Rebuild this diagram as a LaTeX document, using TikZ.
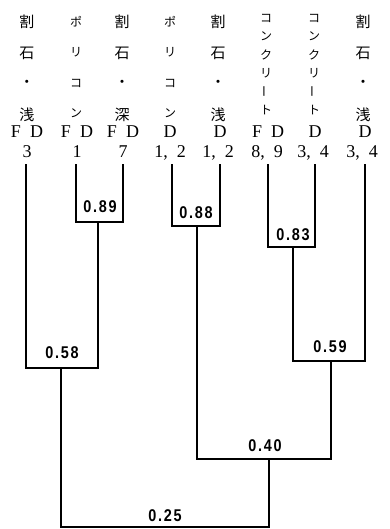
\documentclass[tikz,border=0pt]{standalone}
\usepackage{graphicx}
\usepackage{fontspec}
\setmainfont{Liberation Serif}
\newfontfamily\jp{Noto Sans CJK JP}
\newfontfamily\numfont[LetterSpace=12]{Liberation Sans}
% long vowel mark set vertically, as in vertical writing
\newcommand{\vchoon}{\rotatebox[origin=c]{90}{ー}}
\begin{document}
\begin{tikzpicture}[x=1pt,y=-1pt,
  kanji/.style={inner sep=0pt,font=\jp\fontsize{15}{15}\selectfont},
  kana/.style={inner sep=0pt,font=\jp\fontsize{12}{12}\selectfont},
  latin/.style={inner sep=0pt,anchor=base,font=\fontsize{18}{18}\selectfont},
  simval/.style={inner sep=0pt,xscale=0.85,font=\numfont\bfseries\fontsize{17}{17}\selectfont},
  branch/.style={line width=1.7pt,line join=miter,line cap=rect}]
\useasboundingbox (0,0) rectangle (390,529);

% ---- column headings: kanji columns ----
\foreach \cx/\cn/\last in {27/a/浅,122/c/深,218/e/浅,363/h/浅}{
  \foreach \ch [count=\i] in {割,石,・,\last}
    \node[kanji] (\cn\i) at (\cx,{22+(\i-1)*31}) {\ch};
}
% ---- column headings: katakana columns ----
\foreach \cx/\cn in {76/b,170/d}{
  \foreach \ch [count=\i] in {ポ,リ,コ,ン}
    \node[kana] (\cn\i) at (\cx,{22+(\i-1)*30.5}) {\ch};
}
\foreach \cx/\cn in {266/f,314/g}{
  \foreach \ch [count=\i] in {コ,ン,ク,リ,\vchoon,ト}
    \node[kana] (\cn\i) at (\cx,{18+(\i-1)*18.5}) {\ch};
}
% ---- column headings: codes ----
\node[latin] (aF) at (27,138) {F\enspace D};
\node[latin] (bF) at (77,138) {F\enspace D};
\node[latin] (cF) at (123,138) {F\enspace D};
\node[latin] (dF) at (170,138) {D};
\node[latin] (eF) at (220,138) {D};
\node[latin] (fF) at (268,138) {F\enspace D};
\node[latin] (gF) at (315,138) {D};
\node[latin] (hF) at (365,138) {D};
\node[latin] (aN) at (27,158) {3};
\node[latin] (bN) at (77,158) {1};
\node[latin] (cN) at (123,158) {7};
\node[latin] (dN) at (170,158) {1,\enspace 2};
\node[latin] (eN) at (218,158) {1,\enspace 2};
\node[latin] (fN) at (267,158) {8,\enspace 9};
\node[latin] (gN) at (313,158) {3,\enspace 4};
\node[latin] (hN) at (362,158) {3,\enspace 4};

% ---- leaf tips ----
\coordinate (l1) at (26,165);
\coordinate (l2) at (76,165);
\coordinate (l3) at (123,165);
\coordinate (l4) at (172,165);
\coordinate (l5) at (220,165);
\coordinate (l6) at (268,165);
\coordinate (l7) at (315,165);
\coordinate (l8) at (365,165);
% ---- joins (stem top of each cluster) ----
\coordinate (j1) at (98,222);
\coordinate (j2) at (197,226);
\coordinate (j3) at (293,247);
\coordinate (j4) at (61,368);
\coordinate (j5) at (331,361);
\coordinate (j6) at (269,459);
\coordinate (j7) at (165,527);

% ---- branches ----
\draw[branch] (l2) |- (j1) -| (l3);
\draw[branch] (l4) |- (j2) -| (l5);
\draw[branch] (l6) |- (j3) -| (l7);
\draw[branch] (l1) |- (j4) -| (j1);
\draw[branch] (j3) |- (j5) -| (l8);
\draw[branch] (j2) |- (j6) -| (j5);
\draw[branch] (j4) |- (j7) -| (j6);

% ---- similarity values ----
\node[simval] (v1) at (100,207) {0.89};
\node[simval] (v2) at (196,213) {0.88};
\node[simval] (v3) at (293,235) {0.83};
\node[simval] (v4) at (62,353) {0.58};
\node[simval] (v5) at (330,347) {0.59};
\node[simval] (v6) at (265,446) {0.40};
\node[simval] (v7) at (165,516) {0.25};
\end{tikzpicture}
\end{document}
